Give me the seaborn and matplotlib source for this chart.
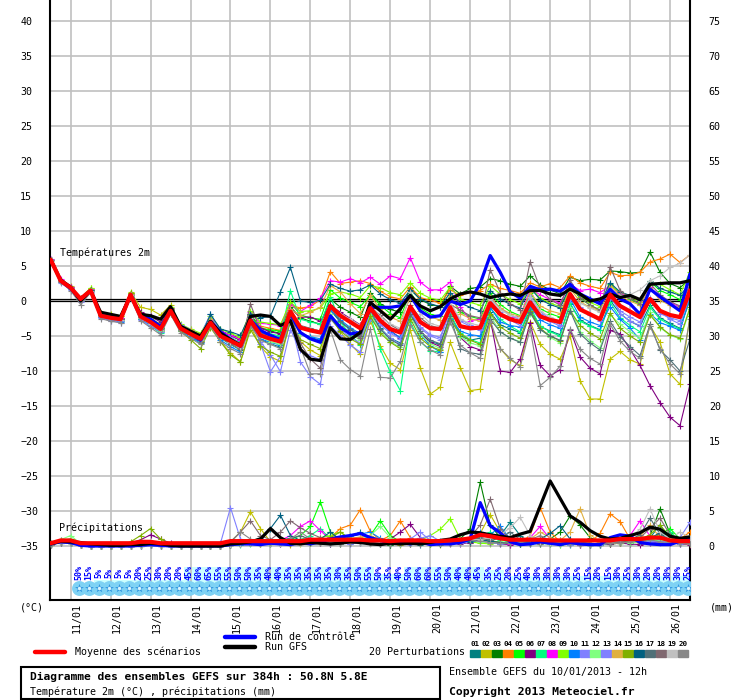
import numpy as np
import pandas as pd
import matplotlib
matplotlib.use("Agg")
import matplotlib.pyplot as plt
from matplotlib.lines import Line2D
from matplotlib.patches import Rectangle
import seaborn as sns

# ---------------- data ----------------
# time axis: every 6 h from 10/01 12h to 26/01 12h
hours = np.arange(0, 385, 6)
day_labels = ["11/01", "12/01", "13/01", "14/01", "15/01", "16/01", "17/01", "18/01",
              "19/01", "20/01", "21/01", "22/01", "23/01", "24/01", "25/01", "26/01"]

# 2m temperature (C)
t_mean = [5.9, 2.9, 1.9, 0.3, 1.5, -2.1, -2.4, -2.6, 0.9, -2.2, -3.0, -4.0, -1.4, -3.9, -4.7, -5.4, -3.1,
          -5.0, -5.7, -6.4, -2.8, -4.9, -5.4, -5.8, -1.5, -3.8, -4.2, -4.5, -0.7, -2.1, -3.0, -3.9, -1.0,
          -2.8, -4.0, -4.5, -0.8, -3.0, -3.9, -4.0, -0.9, -3.6, -3.9, -3.8, -0.3, -1.9, -2.6, -3.0, -0.2,
          -2.2, -2.7, -3.0, 1.0, -1.2, -1.9, -2.6, 0.9, -0.7, -1.5, -2.3, 0.3, -1.4, -2.0, -2.3, 1.5]
t_ctrl = [5.9, 2.9, 1.8, 0.2, 1.5, -2.0, -2.3, -2.5, 0.9, -2.0, -2.6, -3.6, -1.3, -3.8, -4.6, -5.6, -3.0,
          -4.4, -5.5, -6.5, -2.7, -4.2, -4.9, -5.5, -1.8, -4.5, -5.4, -5.9, -2.1, -3.8, -4.7, -4.5, -0.9,
          -0.9, -0.9, -0.7, 0.8, -1.4, -2.3, -2.1, 0.0, -0.5, 0.0, 2.5, 6.5, 4.1, 1.3, 0.4, 2.1,
          1.6, 1.7, 1.4, 2.4, 1.0, 0.3, -0.4, 1.7, 0.3, -0.4, -1.9, 1.7, 0.6, -0.4, -1.4, 3.9]
t_gfs = [5.9, 3.0, 2.0, 0.0, 1.5, -1.6, -1.9, -2.2, 0.8, -1.9, -2.1, -2.6, -0.8, -3.6, -4.3, -5.0, -2.9,
         -4.6, -5.5, -6.3, -2.2, -2.0, -2.2, -3.5, -2.8, -6.9, -8.3, -8.5, -3.8, -5.4, -5.5, -4.5, -0.2,
         -1.4, -2.6, -1.1, 0.8, -0.7, -1.4, -0.8, 0.3, 1.0, 1.3, 1.0, 0.5, 0.8, 1.0, 0.8, 1.5,
         1.5, 1.0, 0.8, 1.7, 1.0, 0.0, 0.3, 1.0, 0.5, 0.8, 0.2, 2.4, 2.5, 2.6, 2.6, 2.9]

t01 = [5.8, 2.7, 1.7, 0.0, 1.4, -2.3, -2.6, -2.9, 0.6, -2.5, -3.4, -4.3, -1.7, -4.2, -5.0, -5.9, -3.4,
       -5.3, -6.2, -7.0, -3.2, -5.5, -6.1, -6.6, -2.0, -4.6, -5.2, -5.6, -1.3, -3.0, -4.1, -5.0, -1.8,
       -3.9, -5.3, -6.0, -1.9, -4.6, -5.8, -6.2, -2.4, -5.0, -5.6, -5.3, -1.6, -3.4, -4.0, -4.5, -1.2,
       -3.6, -4.3, -4.8, -0.4, -2.7, -3.5, -4.1, 0.1, -1.8, -2.9, -3.6, -0.6, -2.4, -3.2, -3.9, 0.2]
t02 = [5.9, 3.0, 2.1, 0.5, 1.8, -1.7, -1.9, -2.1, 1.3, -0.9, -1.2, -2.0, -0.6, -3.4, -4.5, -5.2, -2.8,
       -5.8, -7.4, -8.7, -3.6, -6.5, -8.0, -8.6, -2.6, -5.8, -7.0, -7.8, -1.9, -4.4, -6.2, -7.6, -2.8,
       -6.4, -8.9, -9.8, -4.1, -9.6, -13.3, -12.3, -5.9, -9.5, -12.8, -12.6, -3.2, -6.8, -8.4, -9.2, -3.0,
       -6.2, -7.6, -8.3, -5.0, -11.4, -14.0, -14.0, -8.3, -7.2, -8.4, -9.0, -3.5, -5.9, -10.4, -11.9, -2.1]
t03 = [5.9, 2.8, 1.9, 0.2, 1.5, -2.1, -2.4, -2.6, 0.9, -2.3, -3.1, -4.0, -1.5, -3.7, -4.3, -5.0, -2.5,
       -4.2, -5.0, -5.6, -1.9, -3.8, -4.3, -4.6, -0.8, -2.4, -2.9, -3.3, 0.3, -0.9, -1.6, -2.3, 1.2,
       -0.4, -1.2, -1.6, 1.8, 0.2, -0.5, -0.8, 2.1, 1.0, 1.8, 2.0, 3.2, 2.9, 2.4, 2.1, 3.6,
       2.3, 1.6, 1.0, 3.4, 2.9, 3.1, 3.0, 4.3, 4.2, 4.0, 4.1, 7.0, 4.1, 2.5, 1.9, 3.2]
t04 = [5.9, 2.9, 1.8, 0.1, 1.5, -2.2, -2.5, -2.8, 0.8, -2.4, -3.3, -4.3, -1.6, -4.0, -4.6, -5.3, -2.9,
       -4.5, -5.4, -6.0, -2.3, -3.6, -3.9, -4.2, -0.6, -1.0, -0.8, 0.2, 4.2, 2.5, 2.7, 2.9, 2.5,
       1.4, 0.6, 0.3, 2.0, 0.5, 0.1, -0.3, 1.6, 0.8, 1.2, 1.5, 2.4, 1.8, 1.5, 1.1, 2.6,
       2.0, 2.5, 1.9, 3.6, 2.6, 2.1, 1.8, 4.1, 3.6, 3.7, 4.1, 5.6, 6.0, 6.7, 5.5, 6.6]
t05 = [5.9, 2.8, 1.8, 0.3, 1.7, -1.9, -2.2, -2.4, 1.1, -2.0, -2.8, -3.7, -1.1, -3.8, -4.5, -5.3, -2.6,
       -4.6, -5.3, -5.9, -2.0, -3.9, -4.1, -4.3, -0.2, -2.0, -2.4, -2.6, 1.6, 0.4, -0.2, -0.8, 0.9,
       -0.6, -1.8, -2.4, 1.3, -1.0, -1.9, -2.2, 0.9, -1.6, -2.2, -2.6, 1.1, -0.5, -1.5, -2.1, 1.2,
       -1.1, -1.8, -2.3, 2.2, 0.4, -0.6, -1.3, 2.4, 1.1, 0.3, -0.5, 2.8, 1.5, 0.9, 0.2, 3.0]
t06 = [5.9, 2.9, 2.0, 0.4, 1.6, -2.0, -2.3, -2.4, 1.0, -1.6, -2.2, -3.0, -1.0, -3.7, -4.4, -5.0, -2.7,
       -4.3, -4.8, -5.4, -2.4, -3.9, -4.4, -4.7, -1.1, -2.3, -2.3, -2.9, -0.6, -1.6, -2.5, -3.4, -0.5,
       -2.7, -4.2, -5.3, -1.5, -4.6, -5.9, -6.5, -1.8, -5.2, -6.5, -7.0, -2.5, -10.0, -10.2, -8.3, -3.2,
       -9.2, -10.7, -9.8, -4.1, -8.0, -9.6, -10.4, -4.2, -4.7, -6.9, -9.2, -12.1, -14.5, -16.6, -17.8, -11.9]
t07 = [5.9, 2.8, 1.7, 0.2, 1.6, -2.2, -2.6, -2.9, 0.7, -2.5, -3.5, -4.6, -1.8, -4.0, -4.8, -5.7, -3.0,
       -5.1, -5.9, -6.6, -2.2, -4.3, -4.7, -5.0, 1.5, -2.6, -3.0, -3.3, 0.6, -3.0, -4.8, -6.3, -2.0,
       -6.9, -10.2, -12.8, -3.0, -5.8, -7.1, -7.3, -1.8, -4.6, -5.5, -6.0, -1.0, -2.6, -3.6, -4.4, -0.9,
       -3.6, -4.4, -5.0, -0.3, -2.9, -3.6, -4.2, -0.2, -2.4, -3.5, -4.4, -0.9, -2.6, -3.4, -4.0, 0.5]
t08 = [6.0, 3.2, 2.0, 0.4, 1.7, -1.9, -2.2, -2.4, 1.0, -2.0, -2.7, -3.6, -1.2, -3.6, -4.3, -5.0, -2.5,
       -4.3, -4.9, -5.5, -1.6, -3.2, -3.3, -3.5, -0.4, -1.5, -0.6, 0.4, 2.9, 2.7, 3.2, 2.6, 3.4,
       2.4, 3.6, 3.2, 6.2, 2.7, 1.6, 1.6, 2.7, -0.8, -2.8, -2.6, -0.2, -1.8, -2.4, -2.2, 1.7,
       0.9, 0.2, -0.3, 2.4, 1.5, 1.7, 1.2, 2.2, 1.1, 0.6, 0.0, 2.0, 0.6, -0.3, -0.8, 2.3]
t09 = [5.9, 2.9, 1.9, 0.4, 1.9, -1.8, -2.0, -2.1, 1.2, -1.8, -2.5, -3.3, -0.9, -3.3, -4.0, -4.6, -2.2,
       -4.0, -4.6, -5.2, -1.4, -3.0, -3.2, -3.4, -0.1, -1.5, -1.4, -1.0, 1.0, 1.3, 1.0, 0.5, 2.2,
       1.9, 1.2, 0.9, 2.6, 1.1, 0.4, 0.1, 2.0, 0.3, -0.2, -0.6, 2.2, 1.0, 0.2, -0.4, 2.0,
       0.4, -0.3, -0.8, 1.8, 0.6, -0.2, -0.8, 2.1, 1.3, 0.6, -0.1, 2.3, 2.4, 1.6, 0.9, 4.2]
t10 = [5.9, 2.8, 1.8, 0.1, 1.4, -2.3, -2.7, -3.0, 0.6, -2.6, -3.5, -4.4, -1.7, -4.3, -5.2, -6.0, -3.3,
       -5.6, -6.5, -7.3, -3.3, -5.4, -5.9, -6.3, -2.3, -4.6, -5.1, -5.4, -1.3, -2.7, -3.8, -4.7, -1.2,
       -3.1, -4.4, -5.2, -1.5, -4.8, -6.4, -7.3, -2.6, -4.3, -4.8, -5.0, -0.9, -3.0, -3.5, -3.7, -0.8,
       -2.7, -3.4, -3.9, 0.3, -2.3, -3.0, -3.5, -0.8, -2.6, -3.9, -5.5, -1.8, -3.1, -3.6, -4.2, 0.6]
t11 = [5.8, 2.6, 1.6, -0.1, 1.3, -2.4, -2.8, -3.1, 0.5, -2.7, -3.6, -4.4, -1.6, -3.4, -4.1, -4.9, -1.8,
       -4.5, -5.2, -6.0, -2.1, -6.1, -10.1, -7.9, -2.7, -8.7, -10.8, -11.9, -3.6, -4.9, -6.3, -7.3, -2.5,
       -4.0, -5.3, -6.2, -1.7, -3.7, -4.8, -5.2, -1.0, -2.6, -3.4, -4.0, 0.2, -1.6, -2.7, -3.5, 0.4,
       -1.8, -2.9, -3.6, 0.6, -1.0, -1.9, -2.6, 1.2, -1.8, -2.9, -3.5, 0.4, -1.8, -2.4, -2.8, 0.8]
t12 = [5.9, 2.7, 1.7, 0.1, 1.4, -2.2, -2.6, -2.8, 0.7, -2.4, -3.3, -4.3, -1.6, -4.1, -4.9, -5.7, -3.1,
       -5.2, -6.1, -6.9, -3.1, -5.1, -5.8, -6.2, -2.1, -4.7, -5.4, -5.9, -1.9, -3.6, -4.7, -5.6, -1.9,
       -4.3, -5.8, -6.6, -2.1, -4.7, -6.1, -6.8, -2.3, -5.1, -6.0, -6.4, -2.1, -4.4, -5.3, -5.8, -1.8,
       -3.9, -5.2, -6.0, -1.0, -4.4, -5.7, -6.7, -2.0, -3.3, -4.4, -5.3, -1.6, -3.8, -4.9, -5.4, -1.2]
t13 = [5.8, 2.7, 1.7, 0.0, 1.4, -2.3, -2.6, -2.8, 0.8, -2.3, -3.2, -4.1, -1.4, -3.9, -4.7, -5.6, -2.8,
       -4.9, -5.8, -6.6, -2.6, -5.8, -7.7, -10.1, -4.1, -7.0, -7.8, -8.4, -2.6, -4.1, -5.2, -6.0, -1.3,
       -3.4, -4.6, -5.4, -1.4, -3.9, -5.0, -5.5, -1.3, -2.9, -3.6, -4.2, 0.4, -1.0, -2.0, -2.7, 0.9,
       -1.5, -2.6, -3.4, 0.3, -0.9, -2.0, -2.9, 0.5, -1.4, -2.3, -3.0, 0.1, -1.5, -2.6, -3.3, 0.7]
t14 = [5.9, 2.9, 1.9, 0.3, 1.6, -2.0, -2.3, -2.5, 1.0, -2.2, -3.0, -3.9, -1.3, -3.7, -4.2, -4.8, -2.6,
       -4.8, -5.6, -6.2, -2.7, -4.5, -5.0, -5.4, -1.2, -2.1, -1.6, -0.9, 2.2, 1.3, -0.4, -1.8, 0.8,
       -1.2, -2.3, -2.9, 0.5, -1.4, -2.3, -2.7, 0.9, -1.8, -2.5, -2.9, 0.6, -1.0, -1.8, -2.2, 1.3,
       -0.7, -1.4, -1.8, 1.8, -0.1, -0.9, -1.4, 2.3, 0.7, 0.0, -0.6, 1.9, 0.1, -0.6, -1.0, 1.9]
t15 = [5.9, 2.8, 1.8, 0.2, 1.6, -2.0, -2.3, -2.5, 1.1, -1.9, -2.8, -3.8, -1.2, -4.3, -5.5, -6.8, -3.8,
       -5.8, -7.7, -8.7, -4.1, -6.4, -7.3, -7.9, -3.0, -5.5, -6.2, -6.8, -2.4, -4.3, -5.4, -6.2, -2.2,
       -4.6, -5.9, -6.8, -2.5, -5.3, -6.5, -7.0, -2.7, -4.7, -5.6, -6.2, -1.8, -3.7, -4.6, -5.3, -1.4,
       -3.9, -5.0, -5.7, -1.4, -3.5, -4.6, -5.4, -1.7, -3.9, -5.0, -5.9, -2.0, -3.7, -4.8, -5.3, -0.9]
t16 = [5.9, 2.9, 1.9, 0.3, 1.6, -2.0, -2.3, -2.5, 0.9, -2.1, -2.9, -3.8, -1.3, -3.8, -4.5, -5.2, -1.9,
       -4.0, -4.4, -4.9, -1.8, -2.4, -2.2, 1.3, 4.8, 0.0, -0.2, 0.1, 2.4, 1.8, 1.4, 1.6, 2.3,
       1.0, 0.2, -0.3, 1.6, 0.3, -0.4, -0.8, 1.2, -0.3, -0.9, -1.4, 1.5, 0.3, -0.5, -1.0, 1.9,
       0.2, -0.5, -1.0, 2.2, 0.9, 0.3, -0.3, 2.6, 1.3, 0.8, 0.2, 2.9, 1.8, 1.3, 0.8, 2.5]
t17 = [5.9, 2.8, 1.8, 0.2, 1.5, -2.1, -2.5, -2.7, 0.8, -2.3, -3.1, -4.1, -1.5, -4.0, -4.7, -5.5, -2.8,
       -4.7, -5.5, -6.2, -2.5, -4.6, -5.1, -5.5, -1.9, -3.5, -3.9, -4.3, -0.9, -2.9, -4.0, -5.0, -1.3,
       -4.0, -5.5, -6.3, -1.9, -4.3, -5.6, -6.1, -2.2, -6.8, -7.4, -7.6, -2.6, -4.4, -5.3, -5.9, -1.6,
       -4.1, -5.0, -5.6, -1.4, -4.7, -6.0, -7.0, -2.9, -5.1, -6.5, -7.8, -3.3, -7.0, -8.4, -10.0, -5.4]
t18 = [5.9, 2.8, 1.8, 0.1, 1.5, -2.1, -2.4, -2.6, 0.9, -2.3, -3.2, -4.2, -1.6, -4.1, -4.9, -5.8, -3.0,
       -5.2, -6.1, -6.9, -0.4, -4.3, -5.2, -5.7, -1.9, -6.0, -8.3, -9.6, -2.4, -3.5, -4.6, -5.3, -1.0,
       -2.0, -3.4, -4.2, -0.6, -2.4, -3.5, -3.9, -0.5, -1.3, -2.1, -2.4, 4.5, 1.2, -0.4, -1.3, 5.6,
       1.8, 0.2, -0.6, 3.0, 0.5, -0.6, -1.3, 4.9, 1.5, 0.4, -0.4, 2.5, 0.9, -0.1, -0.7, 2.3]
t19 = [5.9, 2.8, 1.8, 0.1, 1.5, -2.2, -2.5, -2.7, 0.8, -2.4, -3.3, -4.2, -1.5, -4.0, -4.8, -5.6, -3.0,
       -5.0, -5.8, -6.5, -2.4, -4.7, -5.2, -5.6, -1.4, -3.6, -4.0, -4.3, -0.8, -1.8, -2.6, -3.5, -0.3,
       -2.3, -3.3, -3.9, 1.3, -1.8, -3.2, -3.6, -0.2, -2.6, -3.2, -3.5, 0.3, -1.3, -2.0, -2.5, 0.6,
       -1.4, -2.3, -2.9, 0.8, -0.3, -1.0, -1.6, 1.3, 0.6, 0.9, 1.6, 2.9, 3.6, 4.8, 5.4, 6.6]
t20 = [5.9, 2.7, 1.5, -0.5, 1.2, -2.5, -2.9, -3.1, 0.5, -2.8, -3.8, -4.8, -1.9, -4.5, -5.3, -6.2, -3.6,
       -5.8, -6.8, -7.5, -3.6, -5.6, -6.2, -6.8, -2.7, -6.6, -10.4, -10.4, -4.1, -8.4, -9.8, -10.7, -4.0,
       -10.9, -11.0, -8.6, -3.4, -5.8, -7.0, -7.7, -3.0, -6.3, -7.4, -8.2, -2.8, -6.8, -8.2, -9.4, -4.0,
       -12.1, -10.9, -9.3, -4.0, -6.9, -8.2, -9.0, -3.3, -5.7, -7.2, -8.2, -3.6, -6.8, -9.0, -10.4, -2.5]

# precipitation (mm)
r_mean = [0.4, 0.8, 0.8, 0.4, 0.4, 0.4, 0.4, 0.4, 0.4, 0.6, 0.6, 0.4, 0.4, 0.4, 0.4, 0.4, 0.4, 0.4, 0.7, 0.7,
          0.7, 0.7, 0.7, 0.7, 0.7, 0.7, 0.9, 0.9, 0.9, 0.9, 0.9, 0.9, 0.8, 0.8, 0.7, 0.8, 0.8, 0.8, 0.7, 0.7,
          0.8, 0.9, 1.1, 1.6, 1.4, 1.1, 0.9, 0.9, 0.9, 0.9, 0.8, 0.8, 0.8, 0.8, 0.8, 0.8, 0.8, 1.0, 1.0, 1.0,
          1.2, 1.2, 0.8, 0.7, 0.7]
r_ctrl = [0.3, 0.6, 0.5, 0.1, 0.0, 0.0, 0.0, 0.0, 0.0, 0.1, 0.2, 0.1, 0.0, 0.0, 0.0, 0.0, 0.0, 0.0, 0.2, 0.3,
          0.3, 0.2, 0.4, 0.3, 0.2, 0.5, 0.3, 0.6, 1.0, 1.3, 1.5, 1.8, 1.2, 0.8, 0.4, 0.5, 0.3, 0.6, 0.2, 0.3,
          0.3, 0.5, 1.0, 6.2, 2.9, 1.9, 0.6, 0.2, 0.3, 0.6, 0.4, 0.2, 0.5, 0.3, 0.2, 0.2, 1.2, 1.6, 1.4, 0.5,
          0.3, 0.2, 0.2, 0.7, 1.0]
r_gfs = [0.3, 0.7, 0.6, 0.5, 0.3, 0.2, 0.1, 0.1, 0.2, 0.2, 0.4, 0.3, 0.1, 0.0, 0.0, 0.0, 0.0, 0.0, 0.3, 0.4,
         0.6, 1.0, 2.5, 1.2, 0.4, 0.3, 0.5, 0.4, 0.3, 0.4, 0.6, 0.5, 0.3, 0.2, 0.4, 0.3, 0.4, 0.3, 0.5, 0.8,
         1.0, 1.6, 2.0, 1.9, 1.6, 1.4, 1.2, 1.7, 2.1, 5.7, 9.3, 6.8, 4.3, 3.4, 2.2, 1.4, 1.0, 1.1, 1.5, 1.9,
         2.7, 2.4, 1.4, 1.1, 1.3]

r01 = [0.2, 0.5, 0.4, 0.1, 0.0, 0, 0, 0, 0, 0.1, 0.3, 0.1, 0, 0, 0, 0, 0, 0, 0.2, 0.3,
       0.5, 0.3, 0.4, 0.6, 0.3, 0.4, 0.6, 0.5, 0.3, 0.8, 1.2, 2.0, 0.8, 0.3, 0.2, 0.3, 0.4, 0.2, 0.3, 0.5,
       0.4, 0.6, 0.8, 1.2, 0.9, 1.5, 3.4, 1.5, 0.4, 0.3, 0.5, 0.9, 0.6, 0.3, 0.2, 0.2, 0.4, 0.6, 0.5, 0.7,
       1.2, 3.0, 1.1, 0.5, 0.3]
r02 = [0.3, 0.6, 0.5, 0.2, 0.0, 0, 0, 0, 0.1, 0.3, 0.5, 0.2, 0, 0, 0, 0, 0, 0.2, 0.6, 2.0,
       4.9, 2.5, 0.6, 0.3, 0.2, 0.3, 0.5, 0.4, 0.6, 0.5, 0.4, 0.6, 0.9, 0.5, 0.3, 0.2, 0.4, 0.5, 0.3, 0.2,
       0.5, 0.7, 1.0, 1.8, 4.5, 2.0, 0.8, 0.4, 0.3, 0.5, 0.6, 0.4, 0.3, 0.2, 0.1, 0.2, 0.3, 0.4, 0.6, 0.5,
       0.8, 0.6, 0.4, 0.3, 1.5]
r03 = [0.3, 0.7, 0.6, 0.2, 0.0, 0, 0, 0, 0, 0.1, 0.2, 0.1, 0, 0, 0, 0, 0, 0, 0.3, 0.5,
       0.7, 0.4, 0.3, 0.5, 0.6, 0.8, 0.5, 0.6, 0.4, 0.3, 0.5, 0.9, 0.6, 0.4, 0.2, 0.3, 0.5, 0.4, 0.6, 0.4,
       0.6, 1.0, 2.5, 9.1, 3.0, 1.2, 0.6, 0.3, 0.4, 0.6, 1.0, 2.0, 4.3, 3.0, 1.2, 0.5, 0.3, 0.4, 0.6, 0.8,
       1.5, 5.3, 1.8, 0.7, 0.4]
r04 = [0.2, 0.5, 0.4, 0.1, 0.0, 0, 0, 0, 0, 0, 0.1, 0, 0, 0, 0, 0, 0, 0, 0.1, 0.3,
       0.4, 0.3, 0.5, 0.4, 0.3, 0.6, 0.8, 0.5, 1.2, 2.5, 3.0, 5.2, 2.1, 0.8, 1.5, 3.6, 1.2, 0.5, 0.3, 0.4,
       0.3, 0.5, 0.7, 0.9, 0.6, 0.4, 0.3, 0.5, 1.5, 5.5, 2.0, 0.6, 0.4, 0.3, 0.5, 1.8, 4.6, 3.5, 1.0, 0.6,
       0.5, 0.8, 0.6, 1.0, 2.0]
r05 = [0.4, 0.8, 1.0, 0.3, 0.0, 0, 0, 0, 0.1, 0.2, 0.3, 0.1, 0, 0, 0, 0, 0, 0, 0.2, 0.4,
       0.5, 0.6, 0.4, 0.7, 0.9, 1.5, 2.8, 6.3, 2.0, 0.7, 0.5, 0.8, 1.5, 3.6, 1.5, 0.6, 0.4, 0.3, 0.5, 0.4,
       0.6, 0.8, 0.5, 0.7, 0.5, 0.4, 0.3, 0.6, 0.5, 0.4, 0.3, 0.2, 0.4, 0.5, 0.3, 0.4, 0.6, 0.5, 0.8, 0.9,
       1.2, 1.6, 2.5, 1.0, 0.6]
r06 = [0.3, 0.6, 0.5, 0.2, 0.0, 0, 0, 0.1, 0.4, 0.9, 1.6, 1.0, 0.4, 0.2, 0.1, 0, 0, 0, 0.2, 0.3,
       0.4, 0.6, 0.5, 0.3, 0.4, 0.5, 0.7, 0.4, 0.3, 0.5, 0.6, 0.8, 0.5, 0.4, 1.0, 2.0, 3.1, 1.2, 0.5, 0.3,
       0.4, 0.3, 0.5, 0.8, 0.6, 0.3, 0.2, 0.4, 0.5, 0.6, 0.8, 0.5, 0.3, 0.2, 0.1, 0.2, 0.3, 0.4, 0.3, 0.2,
       0.4, 0.6, 0.5, 0.3, 0.2]
r07 = [0.3, 0.6, 0.5, 0.1, 0.0, 0, 0, 0, 0, 0.1, 0.2, 0, 0, 0, 0, 0, 0, 0, 0.1, 0.2,
       0.3, 0.4, 0.6, 0.5, 0.4, 0.9, 1.5, 2.5, 1.0, 0.6, 0.4, 0.7, 0.9, 0.6, 0.4, 0.3, 0.5, 0.4, 0.3, 0.5,
       0.6, 0.4, 0.8, 1.2, 2.0, 0.9, 0.5, 0.3, 0.4, 0.6, 0.5, 0.3, 0.2, 0.4, 0.3, 0.2, 0.4, 0.6, 0.5, 0.7,
       0.9, 1.3, 2.0, 0.8, 0.5]
r08 = [0.4, 0.9, 0.6, 0.2, 0.0, 0, 0, 0, 0, 0.1, 0.2, 0.1, 0, 0, 0, 0, 0, 0, 0.2, 0.3,
       0.5, 0.4, 0.6, 0.8, 1.5, 2.8, 3.6, 2.2, 0.9, 0.5, 0.4, 0.6, 0.8, 0.5, 0.3, 0.4, 0.6, 0.3, 0.4, 0.5,
       0.4, 0.6, 0.9, 0.7, 0.5, 0.4, 0.3, 0.5, 1.2, 2.8, 1.0, 0.4, 0.3, 0.2, 0.3, 0.4, 0.5, 0.7, 1.5, 3.6,
       1.4, 0.8, 0.5, 0.4, 0.3]
r09 = [0.3, 0.7, 0.5, 0.2, 0.0, 0, 0, 0, 0, 0.2, 0.4, 0.1, 0, 0, 0, 0, 0, 0, 0.2, 0.4,
       0.5, 0.3, 0.4, 0.6, 0.5, 0.7, 0.9, 1.2, 1.5, 2.0, 1.0, 0.6, 0.4, 0.3, 0.5, 0.7, 0.5, 0.8, 1.5, 2.4,
       3.9, 1.0, 0.6, 0.4, 0.3, 0.5, 0.4, 0.3, 0.6, 0.4, 0.3, 0.5, 0.4, 0.3, 0.2, 0.3, 0.5, 0.4, 0.6, 0.8,
       1.0, 0.7, 0.5, 0.4, 0.3]
r10 = [0.3, 0.6, 0.4, 0.1, 0.0, 0, 0, 0, 0, 0, 0.1, 0, 0, 0, 0, 0, 0, 0, 0.3, 0.4,
       0.6, 0.5, 0.3, 0.4, 0.5, 0.6, 0.4, 0.7, 0.9, 1.1, 1.4, 1.7, 2.0, 1.1, 0.5, 0.4, 0.3, 0.5, 0.4, 0.3,
       0.5, 0.7, 1.2, 2.0, 1.6, 2.8, 1.0, 0.4, 0.3, 0.5, 0.4, 0.3, 0.5, 0.4, 0.2, 0.3, 0.6, 0.8, 0.7, 0.9,
       1.5, 0.9, 0.6, 0.4, 0.5]
r11 = [0.2, 0.5, 0.4, 0.1, 0.0, 0, 0, 0, 0, 0, 0.1, 0, 0, 0, 0, 0, 0, 0.4, 5.5, 1.0,
       0.6, 0.4, 0.5, 0.3, 0.4, 0.6, 0.5, 0.4, 0.7, 0.5, 0.3, 0.5, 0.6, 0.4, 0.3, 0.5, 1.0, 2.0, 0.8, 0.4,
       0.3, 0.5, 0.7, 0.9, 0.6, 0.4, 0.5, 0.3, 0.4, 0.6, 0.5, 0.3, 0.2, 0.4, 0.3, 0.2, 0.4, 0.5, 0.6, 0.8,
       0.7, 0.5, 0.6, 1.2, 3.4]
r12 = [0.4, 0.9, 1.5, 0.3, 0.0, 0, 0, 0, 0, 0.1, 0.3, 0.1, 0, 0, 0, 0, 0, 0, 0.3, 0.5,
       0.4, 0.6, 0.5, 0.4, 0.6, 0.5, 0.7, 0.9, 0.6, 0.4, 0.6, 0.9, 1.5, 2.8, 1.2, 0.5, 0.4, 0.6, 0.3, 0.5,
       0.4, 0.6, 0.8, 0.6, 0.5, 0.7, 1.2, 0.6, 0.4, 0.3, 0.4, 0.3, 0.5, 0.4, 0.2, 0.3, 0.4, 0.6, 0.5, 0.6,
       0.9, 0.8, 0.6, 0.5, 0.4]
r13 = [0.3, 0.6, 0.5, 0.1, 0.0, 0, 0, 0, 0, 0, 0.1, 0, 0, 0, 0, 0, 0, 0, 0.2, 0.3,
       0.4, 0.3, 0.5, 0.6, 0.5, 0.8, 1.2, 0.7, 0.5, 0.4, 0.3, 0.5, 0.4, 0.3, 0.4, 0.6, 0.8, 1.1, 1.5, 0.7,
       0.5, 0.4, 0.6, 0.8, 0.5, 0.3, 0.4, 0.5, 0.3, 0.4, 0.3, 0.5, 0.4, 0.3, 0.2, 0.3, 0.5, 0.7, 1.0, 0.6,
       0.5, 0.7, 0.4, 0.3, 0.4]
r14 = [0.3, 0.6, 0.5, 0.2, 0.0, 0, 0, 0, 0, 0.1, 0.2, 0, 0, 0, 0, 0, 0, 0, 0.1, 0.3,
       0.4, 0.3, 0.5, 0.4, 0.6, 0.5, 0.4, 0.6, 0.8, 0.9, 1.1, 1.3, 1.5, 0.8, 0.5, 0.4, 0.3, 0.5, 0.4, 0.6,
       0.5, 0.7, 1.0, 0.9, 0.6, 0.5, 0.4, 0.6, 1.0, 2.0, 1.2, 0.8, 2.0, 5.3, 1.6, 0.6, 0.4, 0.5, 0.7, 1.4,
       3.0, 1.2, 0.6, 0.4, 0.3]
r15 = [0.3, 0.7, 0.5, 0.2, 0.0, 0, 0, 0.1, 0.6, 1.5, 2.5, 1.0, 0.3, 0.1, 0, 0, 0, 0, 0.2, 0.4,
       0.5, 0.4, 0.3, 0.6, 0.5, 0.7, 0.5, 0.8, 1.2, 2.0, 0.9, 0.6, 0.4, 0.5, 0.3, 0.5, 0.6, 0.4, 0.3, 0.5,
       0.7, 0.6, 0.9, 1.1, 0.8, 0.5, 0.4, 0.3, 0.5, 0.6, 0.4, 0.3, 0.5, 0.4, 0.3, 0.4, 0.6, 0.5, 0.8, 1.0,
       1.6, 3.0, 1.3, 0.6, 0.4]
r16 = [0.3, 0.6, 0.4, 0.1, 0.0, 0, 0, 0, 0, 0, 0.1, 0, 0, 0, 0, 0, 0, 0, 0.2, 0.4,
       0.6, 1.2, 2.5, 4.4, 1.5, 0.8, 0.6, 1.0, 2.0, 0.9, 0.5, 0.7, 0.4, 0.3, 0.5, 0.4, 0.6, 0.5, 0.4, 0.3,
       0.5, 0.8, 0.6, 0.9, 0.7, 0.5, 0.4, 0.3, 0.6, 1.0, 1.8, 2.9, 1.0, 0.5, 0.3, 0.4, 0.5, 0.6, 0.8, 0.7,
       1.1, 1.9, 0.8, 0.5, 0.4]
r17 = [0.3, 0.5, 0.4, 0.1, 0.0, 0, 0, 0, 0, 0.1, 0.2, 0.1, 0, 0, 0, 0, 0, 0, 0.2, 0.3,
       0.4, 0.5, 0.7, 0.9, 1.1, 1.5, 0.9, 0.6, 0.4, 0.5, 0.7, 0.5, 0.4, 0.6, 0.3, 0.4, 0.5, 0.6, 0.4, 0.3,
       0.5, 0.7, 0.9, 1.2, 0.8, 1.1, 2.0, 0.9, 0.5, 0.4, 0.5, 0.4, 0.3, 0.5, 0.4, 0.3, 0.5, 0.7, 0.9, 1.6,
       4.0, 1.7, 0.8, 0.5, 0.4]
r18 = [0.3, 0.6, 0.5, 0.2, 0.0, 0, 0, 0, 0, 0.2, 0.3, 0.1, 0, 0, 0, 0, 0, 0, 0.6, 2.0,
       3.6, 1.5, 0.9, 2.0, 3.6, 2.6, 1.8, 1.2, 0.7, 0.5, 0.4, 0.6, 0.5, 0.3, 0.4, 0.5, 0.3, 0.4, 0.6, 0.5,
       0.4, 0.7, 1.3, 3.0, 6.7, 2.5, 0.9, 0.5, 0.4, 0.3, 0.5, 0.4, 0.6, 0.3, 0.2, 0.3, 0.5, 0.6, 0.8, 1.2,
       2.5, 4.0, 1.6, 0.7, 0.5]
r19 = [0.3, 0.6, 0.4, 0.1, 0.0, 0, 0, 0, 0, 0, 0.1, 0, 0, 0, 0, 0, 0, 0, 0.1, 0.3,
       0.4, 0.5, 0.3, 0.4, 0.6, 0.5, 0.7, 0.6, 0.4, 0.5, 0.6, 0.4, 0.3, 0.5, 0.4, 0.3, 0.4, 0.6, 0.5, 0.4,
       0.6, 0.8, 1.0, 0.9, 1.2, 1.6, 2.6, 4.1, 1.5, 0.6, 0.4, 0.3, 0.5, 0.4, 0.3, 0.4, 0.6, 0.8, 1.2, 2.4,
       5.3, 2.0, 1.0, 2.0, 1.2]
r20 = [0.2, 0.5, 0.4, 0.1, 0.0, 0, 0, 0, 0, 0.1, 0.2, 0, 0, 0, 0, 0, 0, 0, 0.5, 2.0,
       1.0, 0.5, 0.4, 0.6, 1.0, 2.0, 1.0, 0.5, 0.4, 0.3, 0.5, 0.6, 0.4, 0.3, 0.5, 0.4, 0.3, 0.5, 0.4, 0.6,
       0.5, 0.6, 0.8, 0.7, 0.5, 0.4, 0.5, 0.6, 0.9, 1.5, 0.8, 0.4, 0.3, 0.2, 0.3, 0.4, 0.5, 0.4, 0.6, 0.7,
       0.9, 0.6, 0.5, 0.4, 0.3]

pert_temp = [t01, t02, t03, t04, t05, t06, t07, t08, t09, t10,
             t11, t12, t13, t14, t15, t16, t17, t18, t19, t20]
pert_rain = [r01, r02, r03, r04, r05, r06, r07, r08, r09, r10,
             r11, r12, r13, r14, r15, r16, r17, r18, r19, r20]
pert_names = ["01", "02", "03", "04", "05", "06", "07", "08", "09", "10",
              "11", "12", "13", "14", "15", "16", "17", "18", "19", "20"]
pert_colors = ["#008080", "#c0c000", "#008000", "#ff8000", "#00ff00", "#800080", "#00ff80", "#ff00ff",
               "#80ff00", "#0080ff", "#8080ff", "#80ff80", "#8080ff", "#e0b040", "#80b000", "#006080",
               "#507078", "#806870", "#c0c0c0", "#888888"]

# probability of precipitation per 6 h step (from 18h onwards)
precip_pct = [50, 15, 5, 5, 5, 5, 20, 25, 30, 20, 20, 45, 60, 65, 55, 55, 50, 50, 35, 40, 40,
              35, 35, 35, 35, 35, 30, 35, 50, 55, 50, 35, 40, 50, 60, 60, 55, 50, 40, 40, 45,
              35, 25, 20, 25, 40, 30, 30, 30, 30, 25, 15, 20, 15, 30, 25, 30, 20, 20, 30, 30, 25]
# snow share shown as the pale cyan band behind the labels
snow_pct = [0, 0, 15, 15, 15, 15, 15, 15, 15, 15, 15, 60, 60, 60, 60, 60, 60, 60, 60, 60, 60,
            60, 60, 60, 60, 60, 60, 60, 60, 60, 35, 35, 35, 60, 60, 60, 60, 60, 60, 60, 60,
            50, 50, 30, 30, 30, 30, 30, 30, 30, 30, 30, 30, 30, 30, 30, 30, 30, 30, 30, 30, 30]

# ---------------- figure ----------------
sns.set_style("white")
plt.rcParams["font.family"] = ["DejaVu Sans Mono", "DejaVu Sans"]
plt.rcParams["text.color"] = "black"
plt.rcParams["xtick.color"] = "black"
plt.rcParams["ytick.color"] = "black"

W, H = 740, 700
fig = plt.figure(figsize=(W / 100, H / 100), dpi=100)
ax = fig.add_axes([50 / W, 100 / H, 640 / W, 600 / H])
ax2 = ax.twinx()

ylo, yhi = -42.71, 43.0

# grid
day_hours = np.arange(12, 384, 24)
ax.set_xticks(day_hours)
ax.set_yticks(np.arange(-35, 41, 5))
ax2.set_yticks(np.arange(0, 76, 5))
ax.grid(True, color="#c0c0c0", lw=1.2)
ax.set_axisbelow(True)
ax.tick_params(axis="x", length=0, labelbottom=False)
ax.tick_params(axis="y", length=0, pad=21.5, labelsize=7.2)
for lbl in ax.get_yticklabels():
    lbl.set_horizontalalignment("left")
ax2.tick_params(axis="y", length=0, pad=13.5, labelsize=7.2)
ax.spines["top"].set_visible(False)
for s in ["left", "right", "bottom"]:
    ax.spines[s].set_color("black")
    ax.spines[s].set_linewidth(1.5)
for s in ax2.spines.values():
    s.set_visible(False)

# zero line (double)
ax.axhline(-0.05, color="black", lw=0.9, zorder=1.5)
ax.axhline(0.3, color="black", lw=0.9, zorder=1.5)

# temperature: perturbations, control, GFS, mean
for vals, col in zip(pert_temp, pert_colors):
    sns.lineplot(x=hours, y=vals, color=col, lw=0.8, marker="+", markersize=4,
                 markeredgewidth=0.8, markeredgecolor=col, ax=ax, zorder=2)
sns.lineplot(x=hours, y=t_ctrl, color="#0000ff", lw=2.3, ax=ax, zorder=3)
sns.lineplot(x=hours, y=t_gfs, color="black", lw=2.3, ax=ax, zorder=3)
sns.lineplot(x=hours, y=t_mean, color="#ff0000", lw=3.0, ax=ax, zorder=4)

# precipitation on the right-hand (mm) axis
for vals, col in zip(pert_rain, pert_colors):
    sns.lineplot(x=hours, y=vals, color=col, lw=0.8, marker="+", markersize=4,
                 markeredgewidth=0.8, markeredgecolor=col, ax=ax2, zorder=2)
sns.lineplot(x=hours, y=r_ctrl, color="#0000ff", lw=2.3, ax=ax2, zorder=3)
sns.lineplot(x=hours, y=r_gfs, color="black", lw=2.3, ax=ax2, zorder=3)
sns.lineplot(x=hours, y=r_mean, color="#ff0000", lw=3.0, ax=ax2, zorder=4)

# probability labels, snow band and snowflake row
pct_hours = np.arange(18, 385, 6) - 1
ax.bar(pct_hours, np.array(snow_pct) * 0.0405, bottom=-40.45, width=6,
       color="#ccffff", zorder=0.3, linewidth=0)
for h, p in zip(pct_hours, precip_pct):
    ax.text(h, -38.85, f"{p}%", rotation=90, ha="center", va="center",
            fontsize=6.0, fontweight="bold", color="#0000ff", zorder=5)
ax.scatter(pct_hours, np.full(len(pct_hours), -41.0), s=115, marker="o",
           color="#7fd2f4", linewidths=0, zorder=5)
ax.scatter(pct_hours, np.full(len(pct_hours), -41.0), s=45, marker="*",
           color="#2f95e0", linewidths=0, zorder=6)
ax.scatter(pct_hours, np.full(len(pct_hours), -41.0), s=6, marker="o",
           color="#d8f4ff", linewidths=0, zorder=7)

# day labels below the plot
for h, lab in zip(day_hours, day_labels):
    ax.text(h + 3.9, -0.005, lab, rotation=90, ha="center", va="top",
            fontsize=7.2, transform=ax.get_xaxis_transform())

ax.text(5.6, 6.9, "Températures 2m", fontsize=7.2, va="center", zorder=6)
ax.text(5.0, -32.4, "Précipitations", fontsize=7.2, va="center", zorder=6)

ax.set_xlim(-0.4, 384)
ax.set_ylim(ylo, yhi)
ax2.set_ylim(ylo + 35, yhi + 35)
ax.set_xlabel("")
ax.set_ylabel("")
ax2.set_ylabel("")


def fx(x):
    return x / W


def fy(y):
    return 1 - y / H


fig.text(fx(20), fy(607), "(°C)", fontsize=7.2, va="center")
fig.text(fx(710), fy(607), "(mm)", fontsize=7.2, va="center")

# legend
for x0, y0, col, lab in [(35, 651.5, "#ff0000", "Moyenne des scénarios"),
                         (225, 637, "#0000ff", "Run de contrôle"),
                         (225, 647, "black", "Run GFS")]:
    fig.add_artist(Line2D([fx(x0), fx(x0 + 30)], [fy(y0), fy(y0)], color=col, lw=3.2,
                          transform=fig.transFigure))
    fig.text(fx(x0 + 40), fy(y0), lab, fontsize=7.2, va="center")

fig.text(fx(369), fy(652), "20 Perturbations", fontsize=7.2, va="center")
for k, (name, col) in enumerate(zip(pert_names, pert_colors)):
    x0 = 470 + 10.95 * k
    fig.add_artist(Rectangle((fx(x0), fy(656.5)), 10 / W, 6.5 / H, color=col,
                             transform=fig.transFigure))
    fig.text(fx(x0 + 5), fy(644), name, fontsize=5.4, fontweight="bold",
             ha="center", va="center")

# title box
fig.add_artist(Rectangle((fx(20.5), fy(699)), 419.5 / W, 32 / H, fill=False, ec="black",
                         lw=1.5, transform=fig.transFigure))
fig.text(fx(30), fy(677), "Diagramme des ensembles GEFS sur 384h : 50.8N 5.8E",
         fontsize=8.1, fontweight="bold", va="center")
fig.text(fx(30), fy(692), "Température 2m (°C) , précipitations (mm)", fontsize=7.2, va="center")
fig.text(fx(449), fy(672), "Ensemble GEFS du 10/01/2013 - 12h", fontsize=7.2, va="center")
fig.text(fx(449), fy(692), "Copyright 2013 Meteociel.fr", fontsize=8.2, fontweight="bold",
         va="center")

fig.savefig("out.png", dpi=100, facecolor="white")
